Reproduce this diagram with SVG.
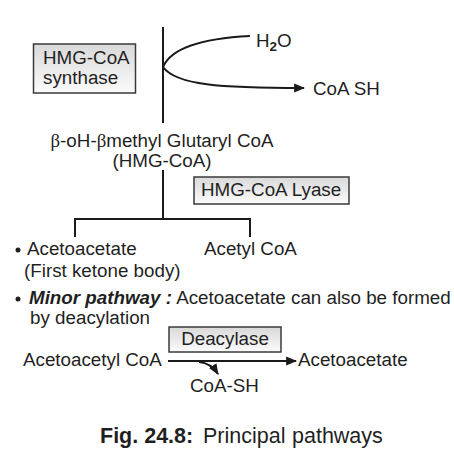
<svg xmlns="http://www.w3.org/2000/svg" width="454" height="453" viewBox="0 0 454 453">
<defs>
<linearGradient id="boxg" x1="0" y1="0" x2="0" y2="1">
<stop offset="0" stop-color="#d9d9d9"/>
<stop offset="1" stop-color="#fbfbfb"/>
</linearGradient>
<marker id="arr" viewBox="0 0 10 10" refX="9" refY="5" markerWidth="11" markerHeight="11" markerUnits="userSpaceOnUse" orient="auto">
<path d="M0,1 L10,5 L0,9 Z" fill="#1a1a1a"/>
</marker>
</defs>
<style>
text{font-family:"Liberation Sans",Arial,sans-serif;font-size:18.8px;fill:#1f1f1f}
.box{fill:url(#boxg);stroke:#3a3a3a;stroke-width:1.5}
.ln{fill:none;stroke:#1a1a1a;stroke-width:2}
.b{font-weight:bold}
.bi{font-weight:bold;font-style:italic}
.cap{font-size:21.5px}
</style>
<rect width="454" height="453" fill="#fff"/>
<g id="connectors">
<path class="ln" d="M163,27 V123"/>
<path class="ln" d="M163,67 C172,46 210,38 250,36"/>
<path class="ln" d="M163,67 C176,85 220,88 304,88" marker-end="url(#arr)"/>
<path class="ln" d="M163,170 V219 M75,219 H250 M75,218 V237 M250,218 V237"/>
<path class="ln" d="M168,361 H296" marker-end="url(#arr)"/>
<path class="ln" d="M199,362 Q211,363 218,374" marker-end="url(#arr)"/>
</g>
<g id="synthase">
<rect class="box" x="33.5" y="44" width="102" height="49"/>
<text x="43" y="64">HMG-CoA</text>
<text x="43" y="84">synthase</text>
</g>
<g id="h2o"><text x="256" y="47">H<tspan font-size="13.5" dy="4" font-weight="bold">2</tspan><tspan dy="-4">O</tspan></text></g>
<g id="coash"><text x="313" y="95">CoA SH</text></g>
<g id="hmgcoa">
<text x="162" y="147" text-anchor="middle" textLength="223"><tspan font-family="Liberation Serif">β</tspan>-oH-<tspan font-family="Liberation Serif">β</tspan>methyl Glutaryl CoA</text>
<text x="162" y="167" text-anchor="middle">(HMG-CoA)</text>
</g>
<g id="lyase">
<rect class="box" x="194" y="177" width="155" height="27"/>
<text x="201" y="196">HMG-CoA Lyase</text>
</g>
<g id="acetoacetate">
<circle cx="18" cy="250" r="2.5" fill="#1f1f1f"/>
<text x="27" y="255">Acetoacetate</text>
<text x="24" y="277">(First ketone body)</text>
</g>
<g id="acetylcoa"><text x="204" y="255">Acetyl CoA</text></g>
<g id="minor">
<circle cx="18" cy="299" r="2.5" fill="#1f1f1f"/>
<text x="29" y="304"><tspan class="bi">Minor pathway :</tspan> Acetoacetate can also be formed</text>
<text x="30" y="324">by deacylation</text>
</g>
<g id="deacylase">
<rect class="box" x="169" y="327" width="112" height="25"/>
<text x="225" y="345" text-anchor="middle">Deacylase</text>
</g>
<g id="acetoacetylcoa"><text x="23" y="366">Acetoacetyl CoA</text></g>
<g id="acetoacetate2"><text x="298" y="366">Acetoacetate</text></g>
<g id="coash2"><text x="190" y="392">CoA-SH</text></g>
<g id="caption">
<text x="100" y="443" class="b cap">Fig. 24.8:</text>
<text x="203" y="443" class="cap">Principal</text>
<text x="292" y="443" class="cap">pathways</text>
</g>
</svg>
